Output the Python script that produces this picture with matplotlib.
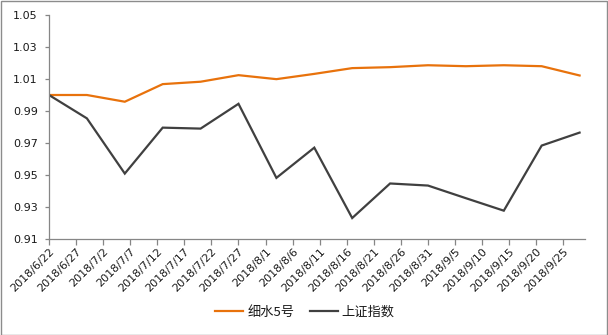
import datetime as dt
import matplotlib
matplotlib.use("Agg")
import matplotlib.pyplot as plt
import matplotlib.dates as mdates
from matplotlib.ticker import FuncFormatter, FixedLocator

plt.rcParams['font.family'] = ['DejaVu Sans', 'Noto Sans CJK SC']

# Weekly observation dates (Fridays)
dates = ["2018-06-22", "2018-06-29", "2018-07-06", "2018-07-13", "2018-07-20",
         "2018-07-27", "2018-08-03", "2018-08-10", "2018-08-17", "2018-08-24",
         "2018-08-31", "2018-09-07", "2018-09-14", "2018-09-21", "2018-09-28"]

# Net value of the fund, normalised to 1 at the start
xishui5 = [1.000, 1.000, 0.9958, 1.0068, 1.0083, 1.0124, 1.0099, 1.0132,
           1.0168, 1.0174, 1.0186, 1.0180, 1.0186, 1.0180, 1.0122]

# Shanghai Composite, normalised to 1 at the start
sh_index = [1.000, 0.9854, 0.9509, 0.9796, 0.9790, 0.9945, 0.9482, 0.9671,
            0.9231, 0.9447, 0.9434, 0.9355, 0.9277, 0.9684, 0.9765]

series_names = ["细水5号", "上证指数"]
y_ticks = [0.91, 0.93, 0.95, 0.97, 0.99, 1.01, 1.03, 1.05]

x = [mdates.date2num(dt.datetime.strptime(d, "%Y-%m-%d")) for d in dates]
start = x[0]

fig = plt.figure(figsize=(6.08, 3.35), dpi=100)
ax = fig.add_axes([49 / 608, 1 - 239 / 335, (585 - 49) / 608, (239 - 15) / 335])

ax.plot(x, xishui5, color="#E8720C", lw=1.6, label=series_names[0],
        solid_joinstyle="miter")
ax.plot(x, sh_index, color="#404040", lw=1.6, label=series_names[1],
        solid_joinstyle="miter")

ax.set_xlim(start, start + 99)
ax.set_ylim(0.91, 1.05)
ax.set_yticks(y_ticks)
ax.yaxis.set_major_formatter(FuncFormatter(lambda v, p: f"{v:.2f}"))

xt = [start + 5 * i for i in range(20)]
ax.xaxis.set_major_locator(FixedLocator(xt))


def date_label(v, pos):
    d = mdates.num2date(v)
    return f"{d.year}/{d.month}/{d.day}"


ax.xaxis.set_major_formatter(FuncFormatter(date_label))

for s in ["top", "right"]:
    ax.spines[s].set_visible(False)
for s in ["left", "bottom"]:
    ax.spines[s].set_color("#868686")
    ax.spines[s].set_linewidth(0.9)

ax.tick_params(axis="y", direction="out", length=3, width=0.9,
               color="#868686", labelsize=8, labelcolor="#1a1a1a", pad=5)
ax.tick_params(axis="x", direction="out", length=4, width=0.9,
               color="#868686", labelsize=8, labelcolor="#1a1a1a", pad=1)
for lbl in ax.get_xticklabels():
    lbl.set_rotation(45)
    lbl.set_ha("right")
    lbl.set_va("top")
    lbl.set_rotation_mode("anchor")

leg = fig.legend(loc="center", bbox_to_anchor=(305 / 608, 1 - 312 / 335),
                 ncol=2, frameon=False, handlelength=2.1, handletextpad=0.3,
                 columnspacing=1.2,
                 prop={"family": ["Noto Sans CJK SC", "DejaVu Sans"], "size": 9.5})
for t in leg.get_texts():
    t.set_color("#1a1a1a")

# Chart-area frame
fig.patches.append(plt.Rectangle((0.5 / 608, 0.5 / 335), 1 - 1.5 / 608, 1 - 1.5 / 335,
                                 transform=fig.transFigure, fill=False,
                                 edgecolor="#8c8c8c", lw=1.0))

fig.savefig("out.png", dpi=100)
